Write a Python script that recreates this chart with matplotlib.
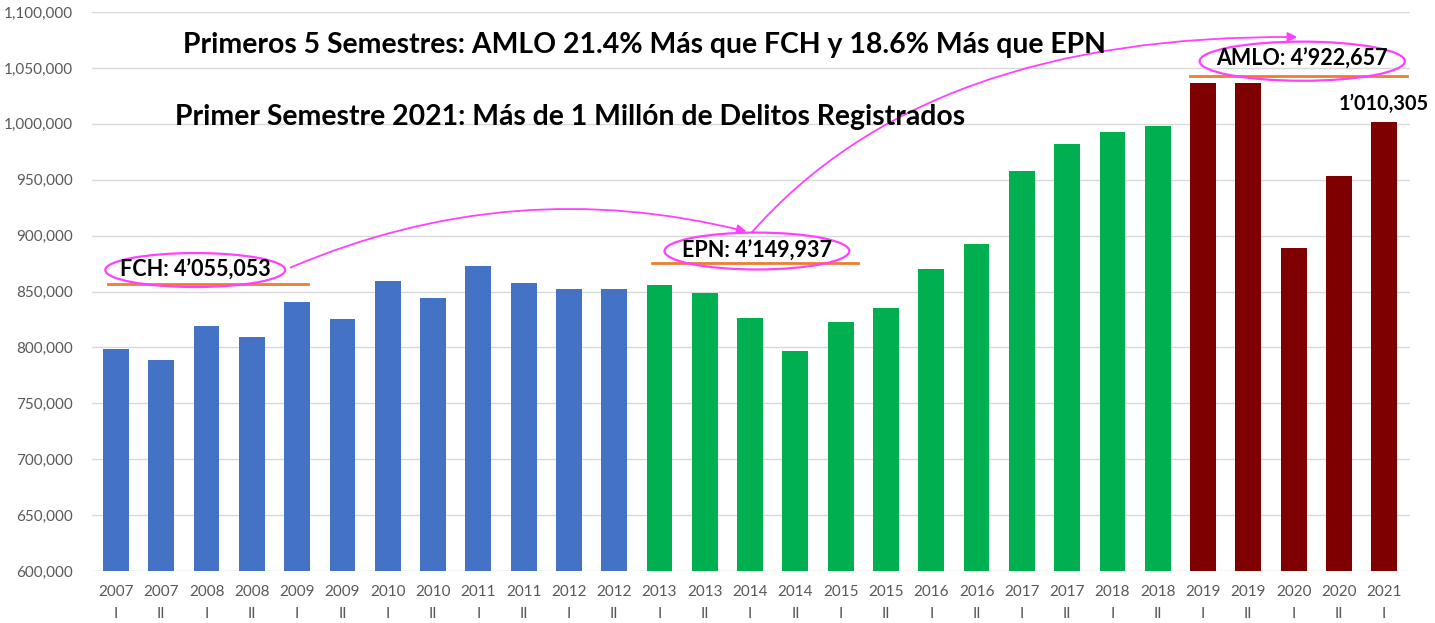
import matplotlib.pyplot as plt
from matplotlib.patches import Ellipse, FancyArrowPatch
from matplotlib.path import Path
from matplotlib.ticker import FuncFormatter

plt.rcParams['font.family'] = ['Lato', 'DejaVu Sans']

years = ['2007', '2007', '2008', '2008', '2009', '2009', '2010', '2010',
         '2011', '2011', '2012', '2012', '2013', '2013', '2014', '2014',
         '2015', '2015', '2016', '2016', '2017', '2017', '2018', '2018',
         '2019', '2019', '2020', '2020', '2021']
semestres = ['I', 'II'] * 14 + ['I']
delitos = [798600, 788700, 819000, 809300, 840600, 825400, 859400, 844200,
           872800, 857600, 852200, 852200, 855800, 848700, 826300, 796800,
           822700, 835200, 870100, 892500, 957800, 981900, 992700, 998000,
           1036500, 1036500, 888900, 953300, 1001600]
periodo = ['FCH'] * 12 + ['EPN'] * 12 + ['AMLO'] * 5
colores = {'FCH': '#4472C4', 'EPN': '#00B050', 'AMLO': '#7F0000'}

titulo1 = 'Primeros 5 Semestres: AMLO 21.4% Más que FCH y 18.6% Más que EPN'
titulo2 = 'Primer Semestre 2021: Más de 1 Millón de Delitos Registrados'
etiquetas = {'FCH': 'FCH: 4’055,053', 'EPN': 'EPN: 4’149,937', 'AMLO': 'AMLO: 4’922,657'}
etiqueta_2021 = '1’010,305'

fig = plt.figure(figsize=(14.35, 6.23), dpi=100)
ax = fig.add_axes([0.0641, 0.0835, 0.9185, 0.8972])

x = list(range(len(delitos)))
ax.bar(x, delitos, width=0.57, color=[colores[p] for p in periodo], zorder=2)

ax.set_ylim(600000, 1100000)
ax.set_xlim(-0.53, 28.57)
ax.set_yticks(range(600000, 1100001, 50000))
ax.yaxis.set_major_formatter(FuncFormatter(lambda v, _: f'{int(v):,}'))
ax.set_xticks(x)
ax.set_xticklabels([f'{a}\n{s}' for a, s in zip(years, semestres)], linespacing=1.7)
ax.tick_params(axis='both', length=0, colors='#595959', labelsize=11)
ax.tick_params(axis='x', pad=10)
ax.tick_params(axis='y', pad=14)
ax.grid(axis='y', color='#D9D9D9', linewidth=1, zorder=0)
for s in ax.spines.values():
    s.set_visible(False)

# lineas naranjas de referencia
ax.plot([-0.18, 4.24], [856700, 856700], color='#ED7D31', lw=2, zorder=3)
ax.plot([11.83, 16.38], [875500, 875500], color='#ED7D31', lw=2, zorder=3)
ax.plot([23.71, 28.5], [1042700, 1042700], color='#ED7D31', lw=2, zorder=3)

mag = '#FF40FF'
ax.add_patch(Ellipse((1.75, 869200), 3.97, 30400, fill=False, ec=mag, lw=1.6, zorder=4))
ax.add_patch(Ellipse((14.15, 886200), 4.08, 33000, fill=False, ec=mag, lw=1.6, zorder=4))
ax.add_patch(Ellipse((26.19, 1056000), 4.53, 35000, fill=False, ec=mag, lw=1.6, zorder=4))

kw = dict(fontsize=15.5, fontweight='bold', ha='center', va='center', zorder=5)
ax.text(1.75, 869500, etiquetas['FCH'], **kw)
ax.text(14.15, 886500, etiquetas['EPN'], **kw)
ax.text(26.19, 1057500, etiquetas['AMLO'], **kw)
ax.text(28, delitos[-1] + 7000, etiqueta_2021, fontsize=14.3, fontweight='bold',
        ha='center', va='bottom', zorder=5)

# flechas
ax.add_patch(FancyArrowPatch((3.8, 870500), (13.98, 903000),
                             connectionstyle='arc3,rad=-0.17', arrowstyle='-|>',
                             mutation_scale=14, color=mag, lw=1.3, zorder=5))
curva = Path([(14.04, 903000), (17.9, 1080500), (26.08, 1077600)],
             [Path.MOVETO, Path.CURVE3, Path.CURVE3])
ax.add_patch(FancyArrowPatch(path=curva, arrowstyle='-|>', mutation_scale=14,
                             color=mag, lw=1.3, zorder=5))

fig.text(0.1275, 0.928, titulo1, fontsize=20.4, fontweight='bold', va='center')
fig.text(0.122, 0.812, titulo2, fontsize=20.4, fontweight='bold', va='center')

fig.savefig('out.png', dpi=100)
